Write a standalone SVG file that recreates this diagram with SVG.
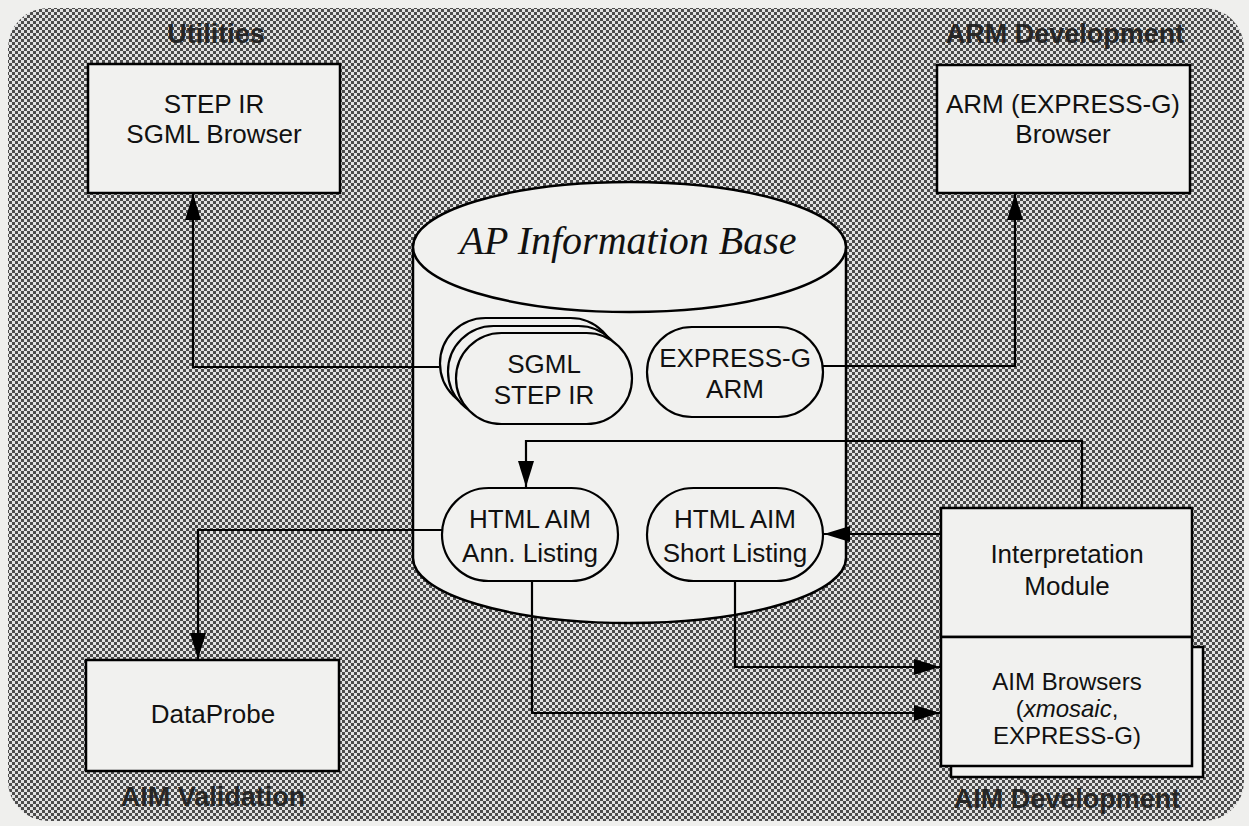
<svg xmlns="http://www.w3.org/2000/svg" width="1249" height="826" viewBox="0 0 1249 826">
  <defs>
    <pattern id="dither" width="6" height="6" patternUnits="userSpaceOnUse">
      <rect width="6" height="6" fill="#e2e2e2"/>
      <rect width="3" height="3" fill="#4c4c4c"/>
      <rect x="3" y="3" width="3" height="3" fill="#4c4c4c"/>
    </pattern>
    <marker id="arrow" viewBox="0 0 26 16" refX="26" refY="8" markerWidth="26" markerHeight="16" markerUnits="userSpaceOnUse" orient="auto">
      <path d="M0,0 L26,8 L0,16 z" fill="#000"/>
    </marker>
    <style>
      .box { fill: #f1f1ef; stroke: #000; stroke-width: 2.5; }
      .pill { fill: #f1f1ef; stroke: #000; stroke-width: 2.2; }
      .txt { font-family: "Liberation Sans", Arial, sans-serif; font-size: 26px; fill: #111; text-anchor: middle; }
      .small { font-size: 24px; }
      .area { font-family: "Liberation Sans", Arial, sans-serif; font-size: 27px; font-weight: bold; fill: #262626; text-anchor: middle; }
      .title { font-family: "Liberation Serif", "Times New Roman", serif; font-style: italic; font-size: 40px; fill: #111; text-anchor: middle; }
      .wire { fill: none; stroke: #000; stroke-width: 2.2; }
    </style>
  </defs>

  <!-- page and shaded panel -->
  <rect width="1249" height="826" fill="#efefed"/>
  <rect x="8" y="8" width="1236" height="813" rx="40" ry="40" fill="url(#dither)"/>

  <!-- area labels -->
  <g id="area-labels">
    <text class="area" x="216" y="43">Utilities</text>
    <text class="area" x="1065" y="43">ARM Development</text>
    <text class="area" x="213" y="806">AIM Validation</text>
    <text class="area" x="1067" y="808">AIM Development</text>
  </g>

  <!-- information base cylinder -->
  <g id="ap-information-base">
    <path d="M413,247 V558 A216.5,65 0 0 0 846,558 V247 Z" fill="#f1f1ef" stroke="#000" stroke-width="2.5"/>
    <ellipse cx="629.5" cy="247" rx="216.5" ry="65" fill="#f1f1ef" stroke="#000" stroke-width="2.5"/>
    <text class="title" x="628" y="254">AP Information Base</text>
  </g>

  <!-- connectors -->
  <g id="connectors">
    <path class="wire" d="M439,367 H193 V194" marker-end="url(#arrow)"/>
    <path class="wire" d="M823,366 H1015 V194" marker-end="url(#arrow)"/>
    <path class="wire" d="M1082,508 V441 H526 V487" marker-end="url(#arrow)"/>
    <path class="wire" d="M941,534 H824" marker-end="url(#arrow)"/>
    <path class="wire" d="M442,530 H198 V659" marker-end="url(#arrow)"/>
    <path class="wire" d="M735,581 V667 H940" marker-end="url(#arrow)"/>
    <path class="wire" d="M532,581 V713 H940" marker-end="url(#arrow)"/>
  </g>

  <g id="sgml-step-ir">
    <rect class="pill" x="440" y="318" width="176" height="91" rx="45.5"/>
    <rect class="pill" x="448" y="326" width="176" height="91" rx="45.5"/>
    <rect class="pill" x="456" y="333" width="176" height="91" rx="45.5"/>
    <text class="txt" x="544" y="373">SGML</text>
    <text class="txt" x="544" y="404">STEP IR</text>
  </g>

  <g id="express-g-arm">
    <rect class="pill" x="647" y="327" width="176" height="90" rx="45"/>
    <text class="txt" x="735" y="367">EXPRESS-G</text>
    <text class="txt" x="735" y="398">ARM</text>
  </g>

  <g id="html-aim-ann-listing">
    <rect class="pill" x="442" y="488" width="176" height="93" rx="46.5"/>
    <text class="txt" x="530" y="528">HTML AIM</text>
    <text class="txt" x="530" y="562">Ann. Listing</text>
  </g>

  <g id="html-aim-short-listing">
    <rect class="pill" x="647" y="488" width="176" height="93" rx="46.5"/>
    <text class="txt" x="735" y="528">HTML AIM</text>
    <text class="txt" x="735" y="562">Short Listing</text>
  </g>

  <g id="step-ir-sgml-browser">
    <rect class="box" x="88" y="64" width="252" height="129"/>
    <text class="txt" x="214" y="113">STEP IR</text>
    <text class="txt" x="214" y="143">SGML Browser</text>
  </g>

  <g id="arm-browser">
    <rect class="box" x="937" y="65" width="253" height="128"/>
    <text class="txt" x="1063" y="113">ARM (EXPRESS-G)</text>
    <text class="txt" x="1063" y="143">Browser</text>
  </g>

  <g id="dataprobe">
    <rect class="box" x="86" y="660" width="253" height="111"/>
    <text class="txt" x="213" y="723">DataProbe</text>
  </g>

  <g id="interpretation-module">
    <rect class="box" x="941" y="508" width="251" height="129"/>
    <text class="txt" x="1067" y="563">Interpretation</text>
    <text class="txt" x="1067" y="595">Module</text>
  </g>

  <g id="aim-browsers">
    <rect class="box" x="951" y="647" width="252" height="130"/>
    <rect class="box" x="941" y="637" width="251" height="129"/>
    <text class="txt small" x="1067" y="690">AIM Browsers</text>
    <text class="txt small" x="1067" y="717">(<tspan font-style="italic">xmosaic</tspan>,</text>
    <text class="txt small" x="1067" y="744">EXPRESS-G)</text>
  </g>
</svg>
